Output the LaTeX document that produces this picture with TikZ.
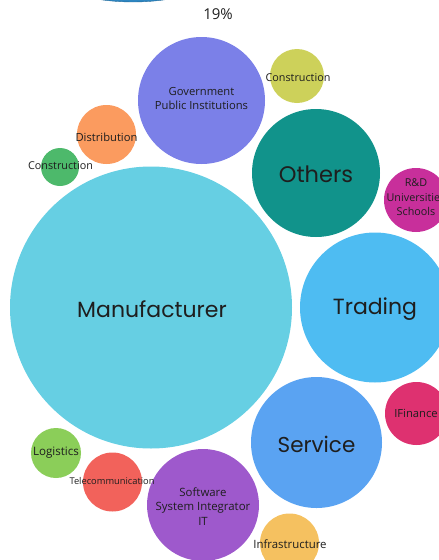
\documentclass[tikz,border=0pt]{standalone}
\usepackage{fontspec}
\setmainfont{Open Sans}
\newfontfamily\bigf{Poppins}
\definecolor{topblue}{HTML}{2E86C1}
\definecolor{govc}{HTML}{7B80E8}
\definecolor{consy}{HTML}{CDD15A}
\definecolor{distc}{HTML}{FB9B5F}
\definecolor{consg}{HTML}{4DB96B}
\definecolor{othc}{HTML}{11938B}
\definecolor{rdc}{HTML}{C82F9B}
\definecolor{manc}{HTML}{66CFE3}
\definecolor{tradc}{HTML}{4EBCF2}
\definecolor{servc}{HTML}{5AA3F2}
\definecolor{finc}{HTML}{DE3170}
\definecolor{logc}{HTML}{8BCE59}
\definecolor{telc}{HTML}{F2625B}
\definecolor{softc}{HTML}{9E59CC}
\definecolor{infc}{HTML}{F5C160}
\definecolor{txt}{HTML}{1E1E1E}
\tikzset{
  bub/.style={circle,inner sep=0pt,minimum size=#1},
  small/.style={text=txt,font=\fontsize{11.2}{14.5}\selectfont,align=center,inner sep=0pt},
  big/.style={text=txt,font=\bigf\fontsize{21.5}{24}\selectfont,inner sep=0pt}
}
\begin{document}
\begin{tikzpicture}[x=1pt,y=-1pt]
\useasboundingbox (0,0) rectangle (439,560);
\clip (0,0) rectangle (439,560);
\node[bub=452pt,fill=topblue,draw=topblue!80!black] (top) at (133,-224) {};
\node[text=txt,font=\fontsize{15}{18}\selectfont,inner sep=0pt] (pct) at (218,14) {19\%};
\node[bub=127pt,fill=govc] (gov) at (201.5,100.5) {};
\node[bub=54pt,fill=consy] (consa) at (297,76) {};
\node[bub=59pt,fill=distc] (dist) at (106.5,134.5) {};
\node[bub=38pt,fill=consg] (consb) at (60,167) {};
\node[bub=128pt,fill=othc] (oth) at (316,173) {};
\node[bub=64pt,fill=rdc] (rd) at (416,200) {};
\node[bub=282pt,fill=manc] (man) at (151,307.5) {};
\node[bub=150pt,fill=tradc] (trad) at (375,307.5) {};
\node[bub=131pt,fill=servc] (serv) at (316.5,442.5) {};
\node[bub=63pt,fill=finc] (fin) at (416.5,413.5) {};
\node[bub=50pt,fill=logc] (log) at (56,453) {};
\node[bub=59pt,fill=telc] (tel) at (112.5,482) {};
\node[bub=112pt,fill=softc] (soft) at (203,505) {};
\node[bub=59pt,fill=infc] (inf) at (289.5,543) {};
\node[small] (govl) at (201.5,98.5) {Government\\Public Institutions};
\node[small,font=\fontsize{10.8}{12}\selectfont] (consal) at (298,78) {Construction};
\node[small] (distl) at (106.5,137) {Distribution};
\node[small,font=\fontsize{10.8}{12}\selectfont] (consbl) at (60.5,166) {Construction};
\node[big,font=\bigf\fontsize{22.5}{26}\selectfont] (othl) at (316,174) {Others};
\node[small,font=\fontsize{10.8}{14.5}\selectfont] (rdl) at (416,197.5) {R\&D\\Universities\\Schools};
\node[big,font=\bigf\fontsize{22}{26}\selectfont] (manl) at (152,309) {Manufacturer};
\node[big,font=\bigf\fontsize{22}{26}\selectfont] (tradl) at (375,309) {Trading};
\node[big] (servl) at (316.5,444.5) {Service};
\node[small] (finl) at (416,413.5) {IFinance};
\node[small,font=\fontsize{11.6}{12}\selectfont] (logl) at (56,453) {Logistics};
\node[small,font=\fontsize{9.3}{10}\selectfont] (tell) at (112,481.5) {Telecommunication};
\node[small,font=\fontsize{11.4}{14.5}\selectfont] (softl) at (203,506.5) {Software\\System Integrator\\IT};
\node[small,font=\fontsize{11.4}{12}\selectfont] (infl) at (290,544) {Infrastructure};
\end{tikzpicture}
\end{document}
